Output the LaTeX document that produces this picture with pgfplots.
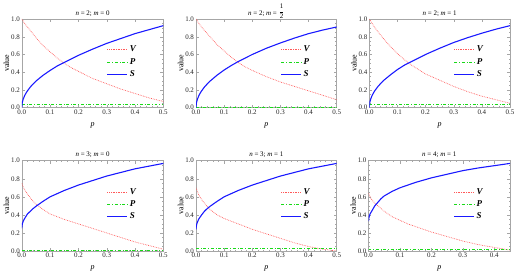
\documentclass[border=0pt]{standalone}
\usepackage{fontspec}
\setmainfont{Liberation Serif}
\usepackage{amsmath}
\usepackage{pgfplots}
\pgfplotsset{compat=1.18}
\definecolor{vred}{rgb}{1,0.35,0.35}
\definecolor{pgreen}{rgb}{0.1,0.85,0.1}
\definecolor{sblue}{rgb}{0.1,0.1,1}
\pgfplotsset{
  panel/.style={
    scale only axis, anchor=south west,
    xmin=0, xmax=0.5, ymin=0, ymax=1,
    xtick={0,0.1,...,0.5}, ytick={0,0.2,...,1.0},
    minor x tick num=4, minor y tick num=3,
    tick align=inside,
    major tick length=3pt, minor tick length=1.5pt,
    axis line style={gray!70, line width=0.5pt},
    every tick/.style={gray!70, line width=0.4pt},
    /pgf/number format/assume math mode=true,
    /pgf/number format/.cd, fixed, fixed zerofill, precision=1, /pgfplots/.cd,
    tick label style={font=\fontsize{7}{8}\selectfont, text=black!85},
    xticklabel style={yshift=1.5pt},
    yticklabel style={xshift=1.5pt},
    xlabel={\textit{p}}, ylabel={value},
    label style={font=\fontsize{8}{9}\selectfont},
    xlabel style={yshift=-1.5pt},
    ylabel style={yshift=-5pt},
    every axis title/.style={font=\fontsize{7}{8}\selectfont, at={(0.5,1)}, anchor=base, yshift=4pt},
    legend style={at={(0.6,0.72)}, anchor=north west, draw=none, fill=none,
      font=\fontsize{9}{10}\selectfont, inner sep=0pt, row sep=1pt},
    legend cell align=left,
    legend image code/.code={\draw[#1] (0pt,0pt) -- (20pt,0pt);},
  },
  vst/.style={vred, densely dotted, line width=0.7pt},
  pst/.style={pgreen, dash dot, line width=0.7pt},
  sst/.style={sblue, line width=1.1pt},
}
\newcommand{\leg}{\legend{\textbf{\textit{V}},\textbf{\textit{P}},\textbf{\textit{S}}}}
\begin{document}
\begin{tikzpicture}
\useasboundingbox (0,0) rectangle (514bp,271bp);
% Panel 1: n=2, m=0
\begin{axis}[panel, at={(21.8bp,163.3bp)}, width=141.5bp, height=88.7bp,
  title={\textit{n} = 2; \textit{m} = 0}]
\addplot[vst] coordinates {(0,1.0) (0.01,0.95) (0.02,0.91) (0.03,0.87) (0.05,0.79) (0.075,0.70) (0.1,0.63) (0.125,0.56) (0.15,0.50) (0.175,0.45) (0.2,0.41) (0.25,0.33) (0.3,0.27) (0.35,0.21) (0.4,0.16) (0.45,0.11) (0.5,0.07)};
\addplot[pst] coordinates {(0,0.04) (0.5,0.04)};
\addplot[sst] coordinates {(0,0) (0.001,0.044) (0.002,0.062) (0.005,0.097) (0.01,0.136) (0.015,0.165) (0.02,0.19) (0.03,0.233) (0.04,0.268) (0.05,0.30) (0.075,0.365) (0.1,0.42) (0.125,0.47) (0.15,0.51) (0.175,0.55) (0.2,0.59) (0.25,0.66) (0.3,0.725) (0.35,0.78) (0.4,0.835) (0.45,0.88) (0.5,0.925)};
\leg
\end{axis}
% Panel 2: n=2, m=1/2
\begin{axis}[panel, at={(196bp,163.3bp)}, width=140.7bp, height=88.7bp,
  title={\textit{n} = 2; \textit{m} = \raisebox{1.5pt}{$\dfrac{\text{1}}{\text{2}}$}}]
\addplot[vst] coordinates {(0,1.0) (0.01,0.95) (0.02,0.91) (0.03,0.87) (0.05,0.80) (0.075,0.71) (0.1,0.64) (0.125,0.57) (0.15,0.51) (0.175,0.46) (0.2,0.42) (0.25,0.35) (0.3,0.29) (0.35,0.24) (0.4,0.19) (0.45,0.14) (0.5,0.09)};
\addplot[pst] coordinates {(0,0.003) (0.5,0.003)};
\addplot[sst] coordinates {(0,0) (0.001,0.043) (0.002,0.061) (0.005,0.096) (0.01,0.135) (0.015,0.165) (0.02,0.19) (0.03,0.233) (0.04,0.268) (0.05,0.30) (0.075,0.367) (0.1,0.425) (0.125,0.475) (0.15,0.52) (0.175,0.56) (0.2,0.60) (0.25,0.67) (0.3,0.73) (0.35,0.785) (0.4,0.835) (0.45,0.875) (0.5,0.91)};
\leg
\end{axis}
% Panel 3: n=2, m=1
\begin{axis}[panel, at={(369.3bp,163.3bp)}, width=140.7bp, height=88.7bp,
  title={\textit{n} = 2; \textit{m} = 1}]
\addplot[vst] coordinates {(0,1.0) (0.01,0.95) (0.02,0.90) (0.03,0.86) (0.05,0.78) (0.075,0.69) (0.1,0.61) (0.125,0.54) (0.15,0.48) (0.175,0.43) (0.2,0.38) (0.25,0.31) (0.3,0.24) (0.35,0.18) (0.4,0.13) (0.45,0.09) (0.5,0.05)};
\addplot[pst] coordinates {(0,0.04) (0.5,0.04)};
\addplot[sst] coordinates {(0,0) (0.001,0.044) (0.002,0.063) (0.005,0.098) (0.01,0.138) (0.015,0.168) (0.02,0.193) (0.03,0.236) (0.04,0.272) (0.05,0.305) (0.075,0.37) (0.1,0.43) (0.125,0.48) (0.15,0.52) (0.175,0.56) (0.2,0.60) (0.25,0.67) (0.3,0.735) (0.35,0.79) (0.4,0.84) (0.45,0.885) (0.5,0.925)};
\leg
\end{axis}
% Panel 4: n=3, m=0
\begin{axis}[panel, at={(21.8bp,20bp)}, width=141.5bp, height=90.3bp,
  title={\textit{n} = 3; \textit{m} = 0}]
\addplot[vst] coordinates {(0,0.75) (0.005,0.71) (0.01,0.68) (0.02,0.63) (0.03,0.59) (0.04,0.55) (0.05,0.52) (0.075,0.46) (0.1,0.41) (0.125,0.38) (0.15,0.35) (0.2,0.30) (0.25,0.25) (0.3,0.20) (0.35,0.15) (0.4,0.10) (0.45,0.06) (0.5,0.02)};
\addplot[pst] coordinates {(0,0.01) (0.5,0.01)};
\addplot[sst] coordinates {(0,0.25) (0.001,0.28) (0.002,0.30) (0.005,0.33) (0.01,0.36) (0.02,0.41) (0.03,0.44) (0.04,0.47) (0.05,0.495) (0.075,0.55) (0.1,0.60) (0.125,0.635) (0.15,0.67) (0.2,0.73) (0.25,0.78) (0.3,0.83) (0.35,0.87) (0.4,0.91) (0.45,0.94) (0.5,0.97)};
\leg
\end{axis}
% Panel 5: n=3, m=1
\begin{axis}[panel, at={(196bp,20bp)}, width=140.7bp, height=90.3bp,
  title={\textit{n} = 3; \textit{m} = 1}]
\addplot[vst] coordinates {(0,0.70) (0.005,0.66) (0.01,0.62) (0.02,0.57) (0.03,0.53) (0.04,0.49) (0.05,0.46) (0.075,0.40) (0.1,0.36) (0.125,0.33) (0.15,0.30) (0.2,0.24) (0.25,0.19) (0.3,0.14) (0.35,0.09) (0.4,0.05) (0.45,0.02) (0.5,0.0)};
\addplot[pst] coordinates {(0,0.03) (0.5,0.03)};
\addplot[sst] coordinates {(0,0.24) (0.001,0.27) (0.002,0.29) (0.005,0.32) (0.01,0.355) (0.02,0.40) (0.03,0.44) (0.04,0.47) (0.05,0.495) (0.075,0.55) (0.1,0.60) (0.125,0.635) (0.15,0.67) (0.2,0.73) (0.25,0.78) (0.3,0.83) (0.35,0.87) (0.4,0.91) (0.45,0.94) (0.5,0.97)};
\leg
\end{axis}
% Panel 6: n=4, m=1
\begin{axis}[panel, at={(368.5bp,20bp)}, width=141.5bp, height=90.3bp,
  xmax=0.45, xtick={0,0.1,...,0.4},
  title={\textit{n} = 4; \textit{m} = 1}]
\addplot[vst] coordinates {(0,0.64) (0.005,0.60) (0.01,0.57) (0.02,0.53) (0.03,0.50) (0.04,0.47) (0.05,0.44) (0.075,0.38) (0.1,0.34) (0.125,0.30) (0.15,0.27) (0.2,0.21) (0.25,0.16) (0.3,0.11) (0.35,0.07) (0.4,0.04) (0.45,0.01)};
\addplot[pst] coordinates {(0,0.02) (0.45,0.02)};
\addplot[sst] coordinates {(0,0.33) (0.001,0.36) (0.002,0.38) (0.005,0.41) (0.01,0.44) (0.02,0.50) (0.03,0.54) (0.04,0.58) (0.05,0.61) (0.075,0.66) (0.1,0.70) (0.125,0.73) (0.15,0.76) (0.2,0.81) (0.25,0.85) (0.3,0.89) (0.35,0.92) (0.4,0.945) (0.45,0.97)};
\leg
\end{axis}
\end{tikzpicture}
\end{document}
